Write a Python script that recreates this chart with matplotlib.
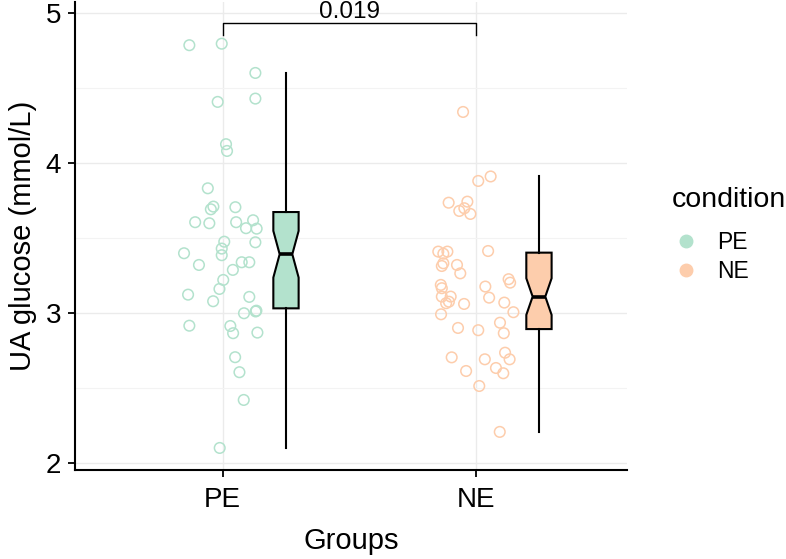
import matplotlib
matplotlib.use("Agg")
import matplotlib.pyplot as plt
from matplotlib.lines import Line2D
import numpy as np

plt.rcParams['font.family'] = ['Liberation Sans', 'DejaVu Sans']

groups = ["PE", "NE"]
colors = ["#B3E2CD", "#FDCDAC"]

# values, paired with the horizontal jitter of each point
pe_values = [4.785, 4.795, 4.60, 4.429, 4.407, 4.125, 4.080, 3.831, 3.709, 3.691,
             3.705, 3.605, 3.598, 3.605, 3.618, 3.565, 3.562, 3.475, 3.471, 3.429,
             3.398, 3.385, 3.320, 3.338, 3.338, 3.287, 3.220, 3.160, 3.122, 3.078,
             3.107, 3.010, 3.015, 2.998, 2.915, 2.913, 2.865, 2.869, 2.705, 2.605,
             2.420, 2.100]
pe_jitter = [-0.132, -0.004, 0.129, 0.129, -0.020, 0.013, 0.017, -0.059, -0.037, -0.047,
             0.050, -0.109, -0.053, 0.053, 0.120, 0.092, 0.134, 0.006, 0.129, -0.004,
             -0.153, -0.004, -0.094, 0.075, 0.105, 0.040, 0.002, -0.013, -0.137, -0.038,
             0.105, 0.130, 0.133, 0.084, -0.132, 0.030, 0.041, 0.137, 0.049, 0.066,
             0.083, -0.012]

ne_values = [4.34, 3.91, 3.88, 3.735, 3.742, 3.680, 3.698, 3.660, 3.409, 3.409,
             3.395, 3.413, 3.331, 3.313, 3.320, 3.264, 3.225, 3.202, 3.187, 3.165,
             3.176, 3.102, 3.109, 3.109, 3.075, 3.065, 3.060, 3.069, 3.005, 2.991,
             2.935, 2.900, 2.885, 2.865, 2.735, 2.704, 2.691, 2.691, 2.633, 2.613,
             2.598, 2.513, 2.207]
ne_jitter = [-0.050, 0.059, 0.010, -0.107, -0.033, -0.065, -0.045, -0.021, -0.148, -0.112,
             -0.128, 0.049, -0.128, -0.134, -0.074, -0.061, 0.130, 0.136, -0.138, -0.134,
             0.038, 0.053, -0.134, -0.099, -0.106, -0.117, -0.046, 0.113, 0.149, -0.137,
             0.096, -0.070, 0.010, 0.111, 0.116, -0.095, 0.036, 0.134, 0.080, -0.038,
             0.109, 0.014, 0.095]

p_label = "0.019"

fig = plt.figure(figsize=(7.86, 5.59), dpi=100)
ax = fig.add_axes([75 / 786, 1 - 470 / 559, 552 / 786, 468 / 559])

data = [pe_values, ne_values]
jitters = [pe_jitter, ne_jitter]
pos = np.arange(1, len(groups) + 1)

for i, (vals, jit) in enumerate(zip(data, jitters)):
    ax.scatter(pos[i] + np.array(jit), vals, s=58, facecolors='none',
               edgecolors=colors[i], linewidths=1.1, zorder=3)

bp = ax.boxplot(data, positions=pos + 0.25, widths=0.1, notch=True,
                showfliers=False, patch_artist=True, showcaps=False,
                whiskerprops=dict(color='black', linewidth=1.5),
                medianprops=dict(color='black', linewidth=2.6),
                boxprops=dict(edgecolor='black', linewidth=1.5), zorder=4)
for patch, c in zip(bp['boxes'], colors):
    patch.set_facecolor(c)

# significance bracket
y_br, y_tip = 4.931, 4.853
ax.plot([pos[0], pos[0], pos[1], pos[1]], [y_tip, y_br, y_br, y_tip],
        color='black', linewidth=1.0, zorder=5)
ax.text(pos.mean(), 4.965, p_label, ha='center', va='baseline', fontsize=17.5)

ax.set_xlim(0.416, 2.598)
ax.set_ylim(1.953, 5.073)
ax.set_xticks(pos)
ax.set_xticklabels(groups)
ax.set_yticks([2, 3, 4, 5])
ax.set_yticks([2.5, 3.5, 4.5], minor=True)
ax.grid(True, which='major', color='#EBEBEB', linewidth=1.0, zorder=0)
ax.grid(True, which='minor', axis='y', color='#F3F3F3', linewidth=0.8, zorder=0)
ax.set_axisbelow(True)

for s in ['top', 'right']:
    ax.spines[s].set_visible(False)
for s in ['left', 'bottom']:
    ax.spines[s].set_linewidth(1.5)
ax.tick_params(axis='both', which='major', length=5, width=1.3, labelsize=20, pad=5)
ax.tick_params(axis='x', which='major', pad=7)
ax.tick_params(axis='y', which='minor', length=0)

ax.set_xlabel("Groups", fontsize=21, labelpad=10)
ax.set_ylabel("UA glucose (mmol/L)", fontsize=21, labelpad=6)

# legend: title placed on its own, entries below it
fig.text(672 / 786, 1 - 207 / 559, "condition", fontsize=20.5,
         ha='left', va='baseline')
handles = [Line2D([], [], marker='o', linestyle='none', markersize=9,
                  markerfacecolor=c, markeredgecolor=c) for c in colors]
fig.legend(handles, groups, loc='center left',
           bbox_to_anchor=(672 / 786, 1 - 257 / 559), frameon=False,
           borderpad=0, borderaxespad=0, fontsize=16.5,
           handlelength=1.2, handletextpad=0.75, labelspacing=0.22)

fig.savefig("out.png", dpi=100)
